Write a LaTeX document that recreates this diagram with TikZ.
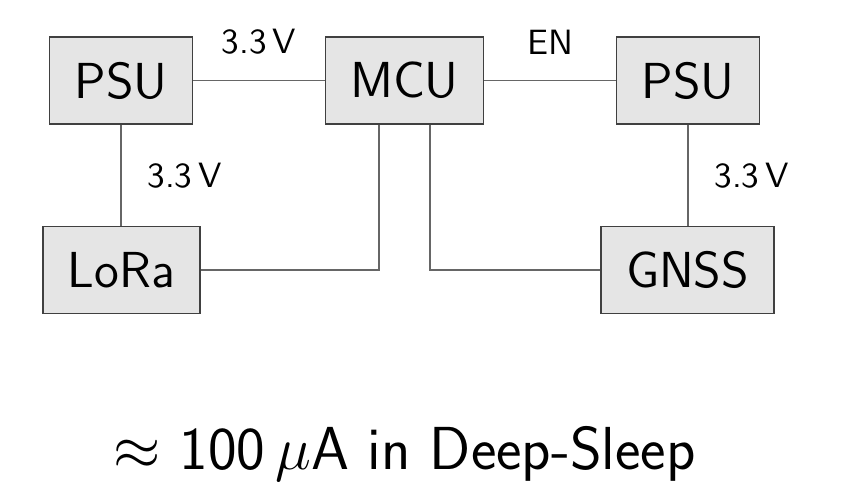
\documentclass[tikz,border=0pt]{standalone}
\usepackage{amsmath, amssymb}
\usepackage{xcolor}
\usepackage{tikz}
\usetikzlibrary{calc, positioning}

\begin{document}
\begin{tikzpicture}[
    block/.style={draw=black!75, fill=black!10, font=\sffamily\Large,
        inner xsep=0.25cm, minimum height=0.87cm},
    wire/.style={draw=black!60},
    lbl/.style={font=\sffamily}
]
    % Khung của hình
    \useasboundingbox (0,0) rectangle (8.42,-4.94);

    % Hàng trên: nguồn, vi điều khiển, nguồn
    \node[block] (psuA) at (1.21,-0.805)  {PSU};
    \node[block] (mcu)  at (4.045,-0.805) {MCU};
    \node[block] (psuB) at (6.88,-0.805)  {PSU};

    % Hàng dưới: các module
    \node[block] (lora) at (1.215,-2.70) {LoRa};
    \node[block] (gnss) at (6.875,-2.70) {GNSS};

    % Các đường nối hàng trên
    \draw[wire] (psuA) -- node[lbl, above=4pt] (vMcu) {3.3\,V} (mcu);
    \draw[wire] (mcu) -- node[lbl, above=4pt] (en) {EN} (psuB);

    % Nguồn xuống module
    \draw[wire] (psuA.south) -- node[lbl, right=4pt] (vLora) {3.3\,V} (psuA.south |- lora.north);
    \draw[wire] (psuB.south) -- node[lbl, right=4pt] (vGnss) {3.3\,V} (psuB.south |- gnss.north);

    % Tín hiệu từ MCU tới module
    \draw[wire] ([xshift=-0.255cm]mcu.south) |- (lora.east);
    \draw[wire] ([xshift=0.255cm]mcu.south) |- (gnss.west);

    % Dòng tiêu thụ
    \node[font=\sffamily\LARGE, anchor=base] (sleep) at (mcu.center |- 0,-4.70)
        {$\approx$ 100\,$\mu$A in Deep-Sleep};
\end{tikzpicture}
\end{document}
